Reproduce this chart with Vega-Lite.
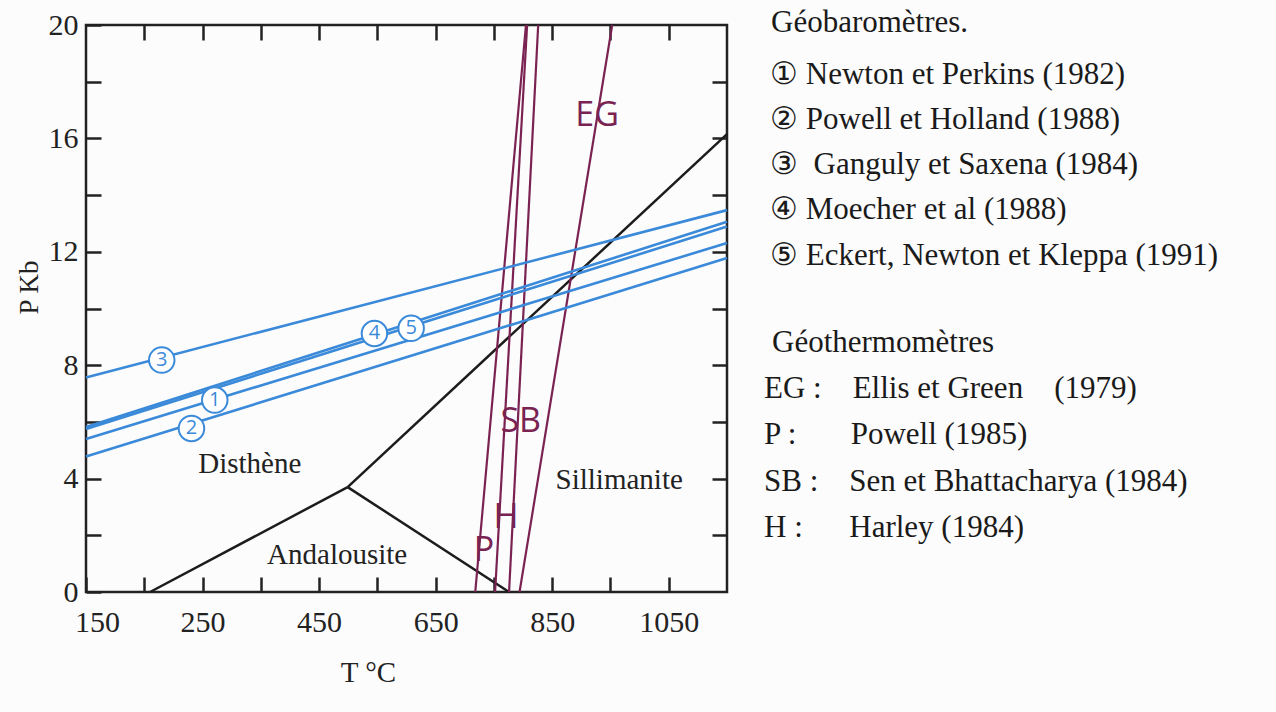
{
  "$schema": "https://vega.github.io/schema/vega-lite/v6.json",
  "width": 641,
  "height": 567,
  "autosize": {"type": "none"},
  "padding": {"left": 86, "top": 25, "right": 549, "bottom": 120},
  "background": "#fcfcfc",
  "config": {"view": {"stroke": "#222222", "strokeWidth": 2.5}, "font": "Liberation Serif"},
  "datasets": {
    "phase": [
      {"seg": "Ky-And", "T": 160, "P": 0},
      {"seg": "Ky-And", "T": 499, "P": 3.7},
      {"seg": "And-Sil", "T": 499, "P": 3.7},
      {"seg": "And-Sil", "T": 776, "P": 0},
      {"seg": "Ky-Sil", "T": 499, "P": 3.7},
      {"seg": "Ky-Sil", "T": 1150, "P": 16.15}
    ],
    "regions": [
      {"name": "Disthène", "T": 331, "P": 4.5},
      {"name": "Andalousite", "T": 481, "P": 1.31},
      {"name": "Sillimanite", "T": 965, "P": 3.95}
    ],
    "thermo": [
      {"thermo": "EG :\u00a0\u00a0\u00a0\u00a0Ellis et Green\u00a0\u00a0\u00a0\u00a0(1979)", "T": 794, "P": 0},
      {"thermo": "EG :\u00a0\u00a0\u00a0\u00a0Ellis et Green\u00a0\u00a0\u00a0\u00a0(1979)", "T": 953, "P": 20},
      {"thermo": "P :\u00a0\u00a0\u00a0\u00a0\u00a0\u00a0\u00a0Powell (1985)", "T": 718, "P": 0},
      {"thermo": "P :\u00a0\u00a0\u00a0\u00a0\u00a0\u00a0\u00a0Powell (1985)", "T": 805, "P": 20},
      {"thermo": "SB :\u00a0\u00a0\u00a0\u00a0Sen et Bhattacharya (1984)", "T": 776, "P": 0},
      {"thermo": "SB :\u00a0\u00a0\u00a0\u00a0Sen et Bhattacharya (1984)", "T": 826, "P": 20},
      {"thermo": "H :\u00a0\u00a0\u00a0\u00a0\u00a0\u00a0Harley (1984)", "T": 752, "P": 0},
      {"thermo": "H :\u00a0\u00a0\u00a0\u00a0\u00a0\u00a0Harley (1984)", "T": 807, "P": 20}
    ],
    "baro": [
      {"baro": "①\u00a0Newton et Perkins (1982)", "T": 50, "P": 5.4},
      {"baro": "①\u00a0Newton et Perkins (1982)", "T": 1150, "P": 12.31},
      {"baro": "②\u00a0Powell et Holland (1988)", "T": 50, "P": 4.78},
      {"baro": "②\u00a0Powell et Holland (1988)", "T": 1150, "P": 11.78},
      {"baro": "③\u00a0\u00a0Ganguly et Saxena (1984)", "T": 50, "P": 7.57},
      {"baro": "③\u00a0\u00a0Ganguly et Saxena (1984)", "T": 1150, "P": 13.47},
      {"baro": "④\u00a0Moecher et al (1988)", "T": 50, "P": 5.82},
      {"baro": "④\u00a0Moecher et al (1988)", "T": 1150, "P": 13.06},
      {"baro": "⑤\u00a0Eckert, Newton et Kleppa (1991)", "T": 50, "P": 5.75},
      {"baro": "⑤\u00a0Eckert, Newton et Kleppa (1991)", "T": 1150, "P": 12.89}
    ],
    "circles": [
      {"num": "1", "T": 271, "P": 6.77},
      {"num": "2", "T": 231, "P": 5.77},
      {"num": "3", "T": 180, "P": 8.18},
      {"num": "4", "T": 545, "P": 9.12},
      {"num": "5", "T": 608, "P": 9.3}
    ],
    "thermoLabels": [
      {"abbr": "EG", "T": 927, "P": 16.8},
      {"abbr": "SB", "T": 796, "P": 6.0},
      {"abbr": "H", "T": 771, "P": 2.62},
      {"abbr": "P", "T": 733, "P": 1.45}
    ]
  },
  "layer": [
    {
      "data": {"name": "phase"},
      "mark": {"type": "line", "color": "#1c1c1c", "strokeWidth": 2.5},
      "encoding": {
        "x": {
          "field": "T", "type": "quantitative",
          "scale": {"domain": [50, 1150], "nice": false, "zero": false},
          "axis": {
            "orient": "bottom",
            "values": [50, 150, 250, 350, 450, 550, 650, 750, 850, 950, 1050],
            "format": "d",
            "labelExpr": "datum.value == 50 ? '150' : (datum.value == 250 || datum.value == 450 || datum.value == 650 || datum.value == 850 || datum.value == 1050) ? datum.label : ''",
            "labelOffset": {"condition": {"test": "datum.value == 50", "value": 11}, "value": 0},
            "tickSize": -15, "tickWidth": 2.5, "tickColor": "#222222",
            "domain": false, "grid": false,
            "labelFont": "Liberation Serif", "labelFontSize": 30, "labelColor": "#222222",
            "labelPadding": 30, "labelFlush": false, "labelOverlap": false, "labelBound": false,
            "title": "T °C", "titleFont": "Liberation Serif", "titleFontSize": 29, "titleFontWeight": "normal",
            "titleColor": "#222222", "titleX": 282, "titleY": 80, "titleBaseline": "middle"
          }
        },
        "y": {
          "field": "P", "type": "quantitative",
          "scale": {"domain": [0, 20], "nice": false, "zero": false},
          "axis": {
            "orient": "left",
            "values": [0, 2, 4, 6, 8, 10, 12, 14, 16, 18, 20],
            "labelExpr": "datum.value % 4 == 0 ? datum.label : ''",
            "tickSize": -15, "tickWidth": 2.5, "tickColor": "#222222",
            "domain": false, "grid": false,
            "labelFont": "Liberation Serif", "labelFontSize": 30, "labelColor": "#222222",
            "labelPadding": 23, "labelOverlap": false, "labelBound": false, "labelFlush": false,
            "title": "P Kb", "titleFont": "Liberation Serif", "titleFontSize": 27, "titleFontWeight": "normal",
            "titleColor": "#222222", "titleX": -57, "titleY": 262, "titleAngle": -90, "titleBaseline": "middle"
          }
        },
        "detail": {"field": "seg"}
      }
    },
    {
      "data": {"name": "regions"},
      "mark": {"type": "text", "font": "Liberation Serif", "fontSize": 29, "color": "#222222", "baseline": "middle", "align": "center"},
      "encoding": {
        "x": {
          "field": "T", "type": "quantitative",
          "axis": {
            "orient": "top", "values": [150, 250, 350, 450, 550, 650, 750, 850, 950, 1050],
            "labels": false, "tickSize": -15, "tickWidth": 2.5, "tickColor": "#222222",
            "domain": false, "grid": false, "title": null
          }
        },
        "y": {
          "field": "P", "type": "quantitative",
          "axis": {
            "orient": "right", "values": [2, 4, 6, 8, 10, 12, 14, 16, 18],
            "labels": false, "tickSize": -15, "tickWidth": 2.5, "tickColor": "#222222",
            "domain": false, "grid": false, "title": null
          }
        },
        "text": {"field": "name"}
      }
    },
    {
      "data": {"name": "thermo"},
      "mark": {"type": "line", "strokeWidth": 2.2},
      "encoding": {
        "x": {"field": "T", "type": "quantitative", "axis": null},
        "y": {"field": "P", "type": "quantitative", "axis": null},
        "color": {
          "field": "thermo", "type": "nominal",
          "scale": {
            "domain": [
              "EG :\u00a0\u00a0\u00a0\u00a0Ellis et Green\u00a0\u00a0\u00a0\u00a0(1979)",
              "P :\u00a0\u00a0\u00a0\u00a0\u00a0\u00a0\u00a0Powell (1985)",
              "SB :\u00a0\u00a0\u00a0\u00a0Sen et Bhattacharya (1984)",
              "H :\u00a0\u00a0\u00a0\u00a0\u00a0\u00a0Harley (1984)"
            ],
            "range": ["#7a2352", "#7a2352", "#7a2352", "#7a2352"]
          },
          "legend": {
            "orient": "none", "legendX": 686, "legendY": 303, "direction": "vertical",
            "title": "Géothermomètres", "titleFont": "Liberation Serif", "titleFontSize": 31,
            "titleFontWeight": "normal", "titleColor": "#1a1a1a", "titlePadding": 14.5, "titleLimit": 1000,
            "labelFont": "Liberation Serif", "labelFontSize": 31, "labelColor": "#1a1a1a",
            "labelLimit": 1000, "labelOffset": -39, "rowPadding": 14.3,
            "symbolSize": 0, "symbolOpacity": 0, "symbolStrokeWidth": 0, "padding": 0, "offset": 0
          }
        }
      }
    },
    {
      "data": {"name": "baro"},
      "mark": {"type": "line", "strokeWidth": 2.6},
      "encoding": {
        "x": {"field": "T", "type": "quantitative", "axis": null},
        "y": {"field": "P", "type": "quantitative", "axis": null},
        "color": {
          "field": "baro", "type": "nominal",
          "scale": {
            "domain": [
              "①\u00a0Newton et Perkins (1982)",
              "②\u00a0Powell et Holland (1988)",
              "③\u00a0\u00a0Ganguly et Saxena (1984)",
              "④\u00a0Moecher et al (1988)",
              "⑤\u00a0Eckert, Newton et Kleppa (1991)"
            ],
            "range": ["#3b8ad9", "#3b8ad9", "#3b8ad9", "#3b8ad9", "#3b8ad9"]
          },
          "legend": {
            "orient": "none", "legendX": 685, "legendY": -17, "direction": "vertical",
            "title": "Géobaromètres.", "titleFont": "Liberation Serif", "titleFontSize": 31,
            "titleFontWeight": "normal", "titleColor": "#1a1a1a", "titlePadding": 20, "titleLimit": 1000,
            "labelFont": "Liberation Serif", "labelFontSize": 31, "labelColor": "#1a1a1a",
            "labelLimit": 1000, "labelOffset": -32, "rowPadding": 13.3,
            "symbolSize": 0, "symbolOpacity": 0, "symbolStrokeWidth": 0, "padding": 0, "offset": 0
          }
        }
      }
    },
    {
      "data": {"name": "circles"},
      "mark": {"type": "point", "shape": "circle", "filled": false, "fill": "#ffffff", "fillOpacity": 1, "stroke": "#3b8ad9", "strokeWidth": 2, "size": 650, "opacity": 1},
      "encoding": {
        "x": {"field": "T", "type": "quantitative", "axis": null},
        "y": {"field": "P", "type": "quantitative", "axis": null}
      }
    },
    {
      "data": {"name": "circles"},
      "mark": {"type": "text", "font": "Open Sans", "fontSize": 20, "color": "#3b8ad9", "baseline": "middle", "align": "center"},
      "encoding": {
        "x": {"field": "T", "type": "quantitative", "axis": null},
        "y": {"field": "P", "type": "quantitative", "axis": null},
        "text": {"field": "num"}
      }
    },
    {
      "data": {"name": "thermoLabels"},
      "mark": {"type": "text", "font": "Open Sans", "fontSize": 34, "color": "#7a2352", "baseline": "middle", "align": "center"},
      "encoding": {
        "x": {"field": "T", "type": "quantitative", "axis": null},
        "y": {"field": "P", "type": "quantitative", "axis": null},
        "text": {"field": "abbr"}
      }
    }
  ],
  "resolve": {
    "axis": {"x": "independent", "y": "independent"},
    "scale": {"color": "independent"}
  }
}
